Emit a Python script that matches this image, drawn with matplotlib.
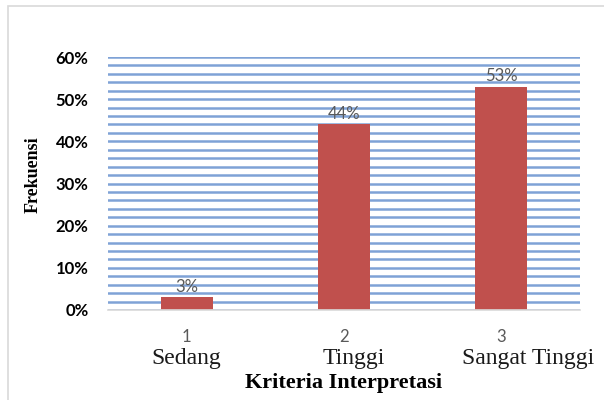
import matplotlib.pyplot as plt
import numpy as np
from matplotlib.patches import Rectangle
from matplotlib.ticker import FuncFormatter, MultipleLocator

positions = [1, 2, 3]
categories = ["Sedang", "Tinggi", "Sangat Tinggi"]
frekuensi = [3, 44, 53]  # percent

bar_color = "#c0504d"
grid_color = "#7fa2d6"

fig = plt.figure(figsize=(6.04, 4.0), dpi=100)
ax = fig.add_axes([0.1788, 0.225, 0.7815, 0.6325])

# light frame around the whole chart, as in the document
fig.patches.append(
    Rectangle((8 / 604, -0.1), 1.2, 1 - 6 / 400 + 0.1, transform=fig.transFigure,
              fill=False, edgecolor="#d9d9d9", lw=1.2, zorder=0)
)

bars = ax.bar(positions, frekuensi, width=0.33, color=bar_color, zorder=3)

ax.set_xlim(0.5, 3.5)
ax.set_ylim(0, 60)
ax.yaxis.set_major_locator(MultipleLocator(10))
ax.yaxis.set_minor_locator(MultipleLocator(2))
ax.yaxis.set_major_formatter(FuncFormatter(lambda v, _: f"{v:.0f}%"))
ax.grid(axis="y", which="both", color=grid_color, lw=1.8, zorder=0)
ax.set_axisbelow(True)

for s in ["top", "right", "left"]:
    ax.spines[s].set_visible(False)
ax.spines["bottom"].set_color("#d9d9d9")
ax.spines["bottom"].set_linewidth(1.2)
ax.spines["bottom"].set_zorder(4)

ax.tick_params(axis="both", which="both", length=0)
ax.tick_params(axis="y", pad=14)
ax.tick_params(axis="x", pad=14)
for lbl in ax.get_yticklabels():
    lbl.set_fontfamily("Lato")
    lbl.set_fontweight("bold")
    lbl.set_fontsize(12)

ax.set_xticks(positions)
ax.set_xticklabels([str(p) for p in positions], fontfamily="Lato",
                   fontsize=12, color="#595959")

# value labels above bars
for x, v in zip(positions, frekuensi):
    ax.annotate(f"{v}%", (x, v), xytext=(0, 2), textcoords="offset points",
                ha="center", va="bottom", fontfamily="Lato", fontsize=12,
                color="#595959")

# category names under the numeric ticks
name_shift = [0.0, 0.06, 0.17]
for x, name, dx in zip(positions, categories, name_shift):
    ax.text(x + dx, -0.19, name, transform=ax.get_xaxis_transform(),
            ha="center", va="center", fontfamily="Liberation Serif",
            fontsize=17, color="#1a1a1a")

ax.text(0.5, -0.29, "Kriteria Interpretasi", transform=ax.transAxes,
        ha="center", va="center", fontfamily="Liberation Serif",
        fontsize=16, fontweight="bold", color="black")

ax.text(-0.159, 0.534, "Frekuensi", transform=ax.transAxes, rotation=90,
        ha="center", va="center", fontfamily="Liberation Serif",
        fontsize=13, fontweight="bold", color="black")

fig.savefig("out.png", dpi=100)
plt.close(fig)
